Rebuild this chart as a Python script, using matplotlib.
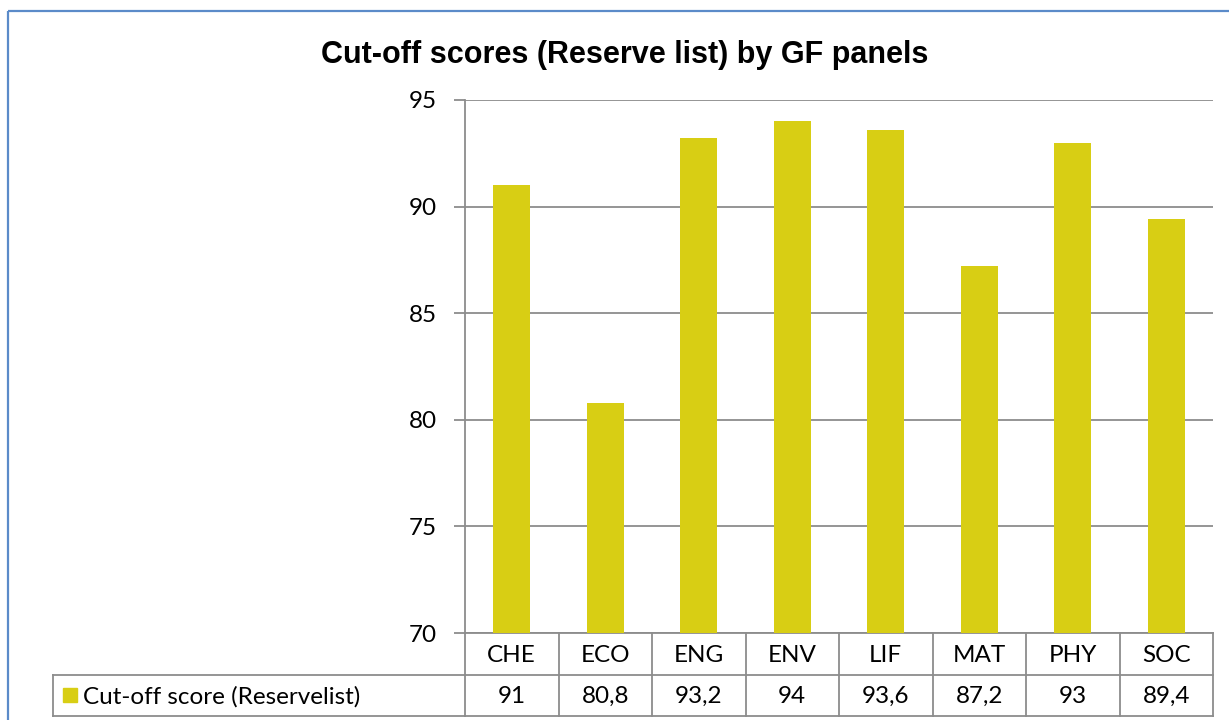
import matplotlib
matplotlib.use("Agg")
import matplotlib.pyplot as plt
from matplotlib.patches import Rectangle
from matplotlib.transforms import blended_transform_factory

categories = ["CHE", "ECO", "ENG", "ENV", "LIF", "MAT", "PHY", "SOC"]
values = [91, 80.8, 93.2, 94, 93.6, 87.2, 93, 89.4]
value_labels = ["91", "80,8", "93,2", "94", "93,6", "87,2", "93", "89,4"]
series_name = "Cut-off score (Reservelist)"
title = "Cut-off scores (Reserve list) by GF panels"
yticks = [70, 75, 80, 85, 90, 95]

W, H = 1229, 720
BAR = "#D8CE14"
GRID = "#8C8C8C"
TXT = "#000000"
BODY_FONT = ["Lato", "DejaVu Sans"]
FS = 17.5

fig = plt.figure(figsize=(W / 100, H / 100), dpi=100)
fig.patch.set_facecolor("white")

# overlay in pixel coordinates
ov = fig.add_axes([0, 0, 1, 1], zorder=0)
ov.set_xlim(0, W)
ov.set_ylim(H, 0)
ov.axis("off")

# outer chart border
ov.add_patch(Rectangle((8, 11), W + 20, H + 20, fill=False, edgecolor="#5B8BC9", lw=1.6))

x0, x1 = 465, 1213
y_top, y_bot = 100, 633
ax = fig.add_axes([x0 / W, 1 - y_bot / H, (x1 - x0) / W, (y_bot - y_top) / H], zorder=2)
ax.patch.set_alpha(0)

xs = list(range(len(categories)))
ax.bar(xs, values, width=0.4, color=BAR, zorder=3)
ax.set_xlim(-0.5, len(categories) - 0.5)
ax.set_ylim(70, 95)
ax.set_yticks(yticks)
ax.set_yticklabels([str(t) for t in yticks], fontsize=FS, family=BODY_FONT, color=TXT)
ax.tick_params(axis="y", length=8, width=1.3, color=GRID, pad=12)
ax.set_xticks([])
ax.yaxis.grid(True, color=GRID, lw=1.3, zorder=0)
for s in ["top", "right"]:
    ax.spines[s].set_visible(False)
ax.spines["left"].set_color(GRID)
ax.spines["left"].set_linewidth(1.3)
ax.spines["bottom"].set_color(GRID)
ax.spines["bottom"].set_linewidth(1.3)

# data table below the axis: x from main axis data, y in pixels
tr = blended_transform_factory(ax.transData, ov.transData)
row1_top, row1_bot, row2_bot = 633, 675, 716
lw = 1.3
n = len(categories)
for i in range(n + 1):
    ov.plot([i - 0.5, i - 0.5], [row1_top, row2_bot], color=GRID, lw=lw, transform=tr, clip_on=False)
ov.plot([-0.5, n - 0.5], [row1_bot, row1_bot], color=GRID, lw=lw, transform=tr, clip_on=False)
ov.plot([-0.5, n - 0.5], [row2_bot, row2_bot], color=GRID, lw=lw, transform=tr, clip_on=False)
ov.plot([53, 465], [row1_bot, row1_bot], color=GRID, lw=lw)
ov.plot([53, 465], [row2_bot, row2_bot], color=GRID, lw=lw)
ov.plot([53, 53], [row1_bot, row2_bot], color=GRID, lw=lw)

for i, (c, v) in enumerate(zip(categories, value_labels)):
    ov.text(i, (row1_top + row1_bot) / 2 + 1, c, transform=tr, ha="center", va="center",
            fontsize=FS, family=BODY_FONT, color=TXT)
    ov.text(i, (row1_bot + row2_bot) / 2 + 1, v, transform=tr, ha="center", va="center",
            fontsize=FS, family=BODY_FONT, color=TXT)

ov.add_patch(Rectangle((63, 688), 14, 14, color=BAR))
ov.text(83, (row1_bot + row2_bot) / 2 + 1, series_name, ha="left", va="center",
        fontsize=FS, family=BODY_FONT, color=TXT)

ov.text(625, 55, title, ha="center", va="center", fontsize=22, fontweight="bold",
        family=["Liberation Sans", "DejaVu Sans"], color=TXT)

fig.savefig("out.png", dpi=100)
